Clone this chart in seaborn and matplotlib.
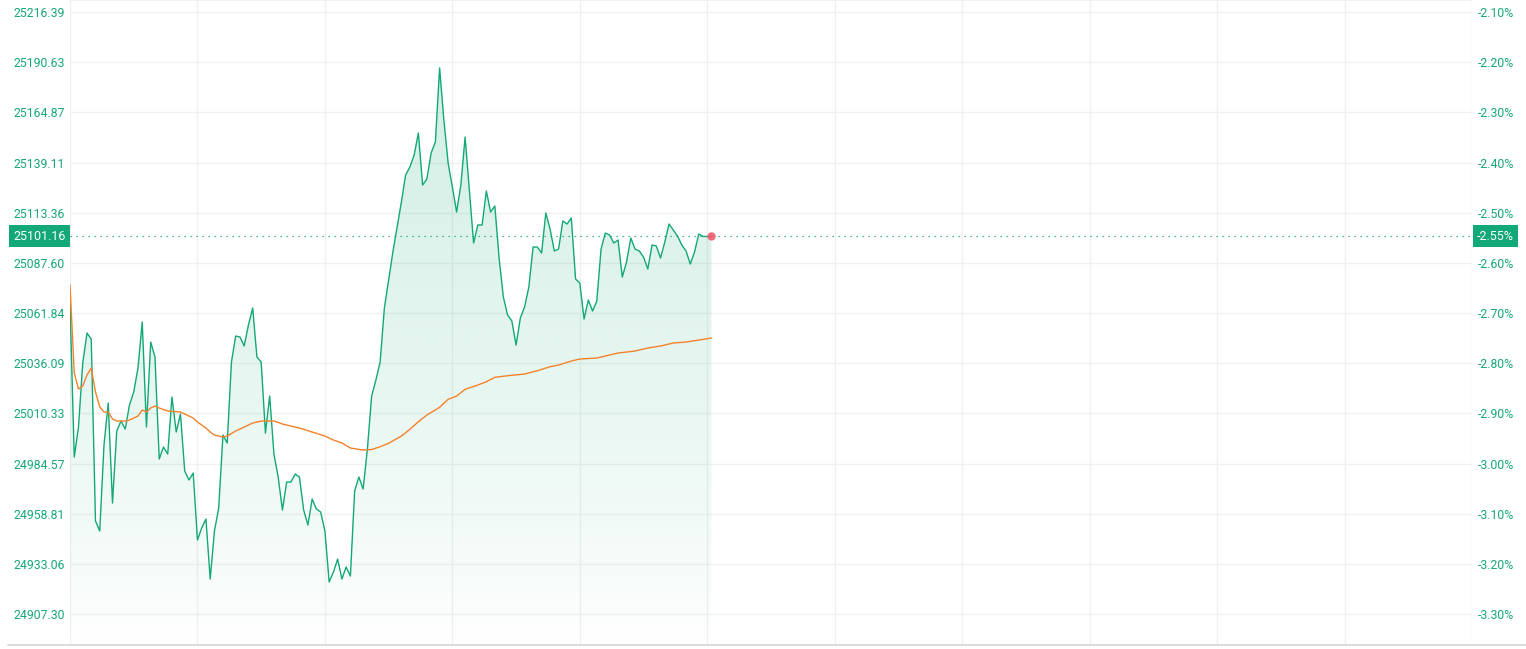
import numpy as np
import pandas as pd
import seaborn as sns
import matplotlib.pyplot as plt
import matplotlib.transforms as mtransforms
from matplotlib.lines import Line2D

# index price, one value per minute
price = [
    25066.98, 24987.91, 25003.31, 25036.17, 25051.57, 25048.49, 24955.05, 24949.91, 24994.07, 25015.63,
    24964.29, 25001.26, 25006.39, 25002.28, 25014.61, 25021.28, 25033.60, 25057.22, 25003.31, 25046.95,
    25039.25, 24986.88, 24993.04, 24989.45, 25018.71, 25000.74, 25009.99, 24980.72, 24976.10, 24979.69,
    24945.29, 24951.45, 24956.07, 24925.27, 24949.91, 24961.72, 24999.20, 24995.10, 25036.68, 25050.03,
    25049.52, 25044.90, 25055.68, 25064.41, 25039.25, 25036.68, 25000.23, 25019.23, 24989.45, 24977.64,
    24960.70, 24975.07, 24975.07, 24979.18, 24977.64, 24960.70, 24952.99, 24966.34, 24961.21, 24959.67,
    24949.91, 24923.73, 24928.86, 24935.54, 24925.27, 24931.43, 24926.81, 24970.45, 24977.64, 24971.48,
    24992.02, 25019.23, 25027.44, 25036.68, 25064.41, 25078.79, 25093.16, 25106.00, 25118.84, 25132.70,
    25136.81, 25142.97, 25154.26, 25127.56, 25130.64, 25143.99, 25149.64, 25187.64, 25160.94, 25138.86,
    25126.54, 25113.70, 25127.56, 25152.21, 25125.00, 25097.78, 25107.03, 25107.03, 25124.48, 25113.70,
    25116.78, 25090.08, 25070.06, 25060.82, 25057.74, 25045.41, 25059.28, 25064.92, 25075.19, 25095.73,
    25095.73, 25092.65, 25113.19, 25104.97, 25093.68, 25094.70, 25109.08, 25107.54, 25110.62, 25079.30,
    25077.25, 25058.76, 25068.52, 25062.87, 25068.00, 25094.70, 25102.92, 25101.89, 25097.78, 25099.32,
    25080.33, 25088.03, 25100.35, 25094.70, 25093.68, 25090.60, 25084.43, 25096.76, 25096.24, 25090.08,
    25098.30, 25107.54, 25104.46, 25101.38, 25096.76, 25093.68, 25087.00, 25093.16, 25102.40, 25101.16,
    25101.16, 25101.16,
]

# running average line (read at its bends)
avg_idx = [0, 1, 2, 3, 4, 5, 6, 7, 8, 9, 10, 11, 13, 14, 15, 16, 17, 18, 19, 20, 21, 23, 26, 27, 29,
           30, 32, 33, 34, 36, 37, 39, 41, 43, 45, 48, 50, 54, 57, 60, 62, 64, 66, 69, 71, 73, 75,
           78, 80, 82, 84, 87, 89, 91, 93, 96, 98, 100, 103, 107, 110, 113, 115, 118, 120, 124,
           126, 129, 131, 133, 136, 139, 142, 145, 148, 151]
avg_val = [25076.22, 25031.04, 25022.82, 25024.36, 25030.01, 25033.60, 25021.28, 25013.58, 25011.01,
           25011.01, 25007.42, 25006.39, 25006.39, 25006.91, 25007.93, 25008.96, 25012.04, 25011.01,
           25013.07, 25014.09, 25013.07, 25011.53, 25011.01, 25009.99, 25007.93, 25005.88, 25002.80,
           25000.74, 24999.20, 24998.18, 24998.69, 25001.26, 25003.31, 25005.36, 25006.39, 25006.39,
           25004.85, 25002.80, 25000.74, 24998.69, 24996.64, 24995.10, 24992.53, 24991.50, 24991.76,
           24993.20, 24994.94, 24998.69, 25002.13, 25006.03, 25009.47, 25013.42, 25017.53, 25019.23,
           25022.67, 25024.88, 25026.57, 25028.83, 25029.65, 25030.52, 25032.22, 25034.27, 25035.14,
           25037.20, 25038.22, 25038.74, 25039.77, 25041.31, 25041.82, 25042.33, 25043.87, 25044.90,
           25046.44, 25046.95, 25047.98, 25049.01]

left_ticks = [25216.39, 25190.63, 25164.87, 25139.11, 25113.36, 25087.60, 25061.84,
              25036.09, 25010.33, 24984.57, 24958.81, 24933.06, 24907.30]
right_labels = ["-2.10%", "-2.20%", "-2.30%", "-2.40%", "-2.50%", "-2.60%", "-2.70%",
                "-2.80%", "-2.90%", "-3.00%", "-3.10%", "-3.20%", "-3.30%"]
last_price = 25101.16
last_pct = "-2.55%"

GREEN = "#12a877"
ORANGE = "#f5822a"
TXT = "#16a874"
GRID = "#f0f0f0"

sns.set_theme(style="white")
plt.rcParams['font.family'] = ['Roboto', 'DejaVu Sans']

df = pd.DataFrame({'t': np.arange(len(price)), 'price': price})
avg = pd.DataFrame({'t': avg_idx, 'avg': avg_val})

W, H = 1526, 649
fig = plt.figure(figsize=(W / 100, H / 100), dpi=100)
ax = fig.add_axes([70 / W, 4 / H, 1402 / W, 645 / H])
ylo, yhi = 24891.4, 25222.55
ax.set_xlim(0, 330)
ax.set_ylim(ylo, yhi)

# gradient fill under the price line
poly = ax.fill_between(df['t'], df['price'], ylo, color='none', lw=0)
grad = np.zeros((256, 1, 4))
grad[:, 0, 0] = 0x12 / 255
grad[:, 0, 1] = 0xa8 / 255
grad[:, 0, 2] = 0x77 / 255
grad[:, 0, 3] = 0.19 * np.linspace(0, 1, 256) ** 0.8
img = ax.imshow(grad, extent=[0, 330, ylo, max(price)], origin='lower',
                aspect='auto', zorder=1, interpolation='bilinear')
img.set_clip_path(poly.get_paths()[0], transform=ax.transData)
ax.set_xlim(0, 330)
ax.set_ylim(ylo, yhi)

sns.lineplot(data=df, x='t', y='price', color=GREEN, lw=1, ax=ax, zorder=3)
sns.lineplot(data=avg, x='t', y='avg', color=ORANGE, lw=1, ax=ax, zorder=3)

ax.axhline(last_price, color=GREEN, lw=0.8, ls=(0, (1.2, 4.2)), zorder=2)
ax.scatter([len(price) - 1], [last_price], s=36, color='#ef5b6e', alpha=0.9,
           edgecolor='none', zorder=5)

ax.set_xticks(range(0, 331, 30))
ax.set_xticklabels([])
ax.set_yticks(left_ticks)
ax.set_yticklabels([f"{v:.2f}" for v in left_ticks])
ax.grid(True, color=GRID, lw=1)
ax.tick_params(axis='both', length=0)
ax.tick_params(axis='y', pad=3.6, labelsize=8.8, labelcolor=TXT)
ax.set_xlabel('')
ax.set_ylabel('')
for s in ['left', 'right', 'bottom']:
    ax.spines[s].set_visible(False)
ax.spines['top'].set_color(GRID)

ax2 = ax.twinx()
ax2.set_ylim(ylo, yhi)
ax2.set_yticks(left_ticks)
ax2.set_yticklabels(right_labels)
ax2.tick_params(axis='y', length=0, pad=4.3, labelsize=8.8, labelcolor=TXT)
for s in ax2.spines.values():
    s.set_visible(False)
ax2.grid(False)

# last value boxes
tr = mtransforms.blended_transform_factory(fig.transFigure, ax.transData)
box = dict(boxstyle='square,pad=0.36', facecolor=GREEN, edgecolor='none')
fig.text(39.5 / W, last_price, f"{last_price:.2f}", transform=tr, ha='center', va='center',
         color='white', fontsize=9, bbox=box)
fig.text(1495.5 / W, last_price, last_pct, transform=tr, ha='center', va='center',
         color='white', fontsize=9, bbox=box)

fig.add_artist(Line2D([8 / W, 1], [4.5 / H, 4.5 / H], transform=fig.transFigure,
                      color='#d4d4d4', lw=1.2))

fig.savefig('out.png', dpi=100)
